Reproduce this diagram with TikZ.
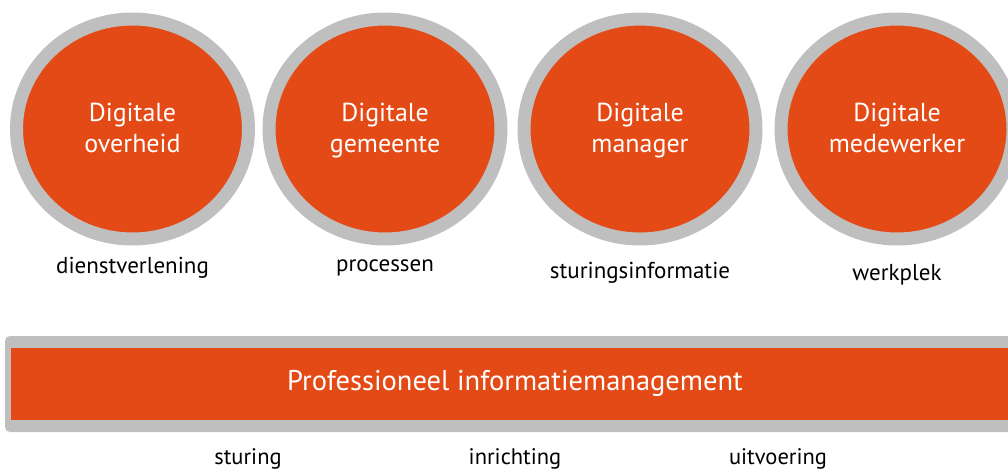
\documentclass[tikz,border=0pt]{standalone}
\usepackage{fontspec}
\setmainfont{PT Sans}
\usepackage{xcolor}
\definecolor{piOrange}{RGB}{228,74,21}
\definecolor{piGray}{RGB}{191,191,191}

\begin{document}
\begin{tikzpicture}[x=1pt,y=1pt,yscale=-1,xscale=1]
    \useasboundingbox (0,0) rectangle (1008,471);
    \tikzset{
      ring/.style={fill=piOrange,draw=piGray,line width=13pt},
      circletext/.style={text=white,align=center,font=\fontsize{26}{31}\selectfont,inner sep=0pt,text depth=0pt},
      lbl/.style={text=black,font=\fontsize{23}{26}\selectfont,inner sep=0pt},
      baselbl/.style={text=black,font=\fontsize{22.5}{26}\selectfont,inner sep=0pt}
    }

    %Shape: Ellipse [id:overheid]
    \draw [ring] (132.5,129) ellipse (116 and 110);
    %Shape: Ellipse [id:gemeente]
    \draw [ring] (385,129) ellipse (116 and 110);
    %Shape: Ellipse [id:manager]
    \draw [ring] (640,129) ellipse (116 and 110);
    %Shape: Ellipse [id:medewerker]
    \draw [ring] (897,129) ellipse (116 and 110);

    %Shape: Rectangle [id:pim]
    \draw [fill=piGray,draw=none,rounded corners=5pt] (5,336) rectangle (1030,432);
    \draw [fill=piOrange,draw=none] (11,348) rectangle (1030,420);

    % Text Node
    \draw (132.5,128) node [circletext] (overheid) {Digitale\\overheid};
    % Text Node
    \draw (385,128) node [circletext] (gemeente) {Digitale\\gemeente};
    % Text Node
    \draw (640,128) node [circletext] (manager) {Digitale\\manager};
    % Text Node
    \draw (897,128) node [circletext] (medewerker) {Digitale\\medewerker};

    % Text Node
    \draw (132.5,268) node [lbl] (dienst) {dienstverlening};
    % Text Node
    \draw (385,268) node [lbl] (processen) {processen};
    % Text Node
    \draw (640,273) node [lbl] (sturingsinfo) {sturingsinformatie};
    % Text Node
    \draw (897,275) node [lbl] (werkplek) {werkplek};

    % Text Node
    \draw (515,383) node [text=white,font=\fontsize{28.5}{32}\selectfont,inner sep=0pt] (pimtext) {Professioneel informatiemanagement};

    % Text Node
    \draw (248,459) node [baselbl] (sturing) {sturing};
    % Text Node
    \draw (515,459) node [baselbl] (inrichting) {inrichting};
    % Text Node
    \draw (778,459) node [baselbl] (uitvoering) {uitvoering};

\end{tikzpicture}
\end{document}
